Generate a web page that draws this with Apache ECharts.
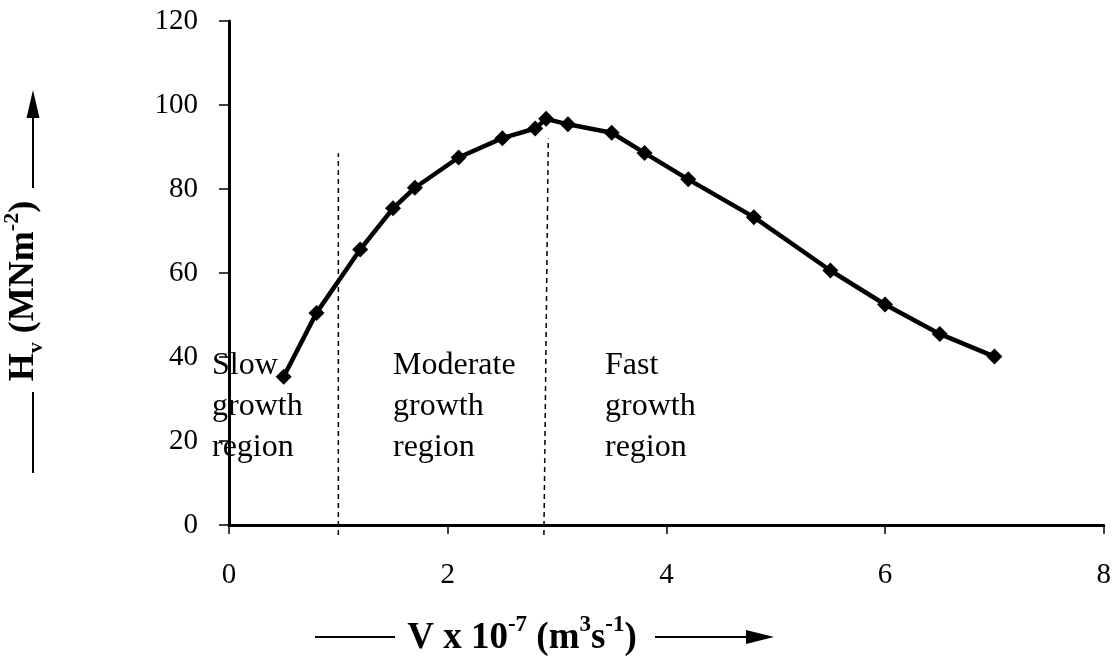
<!DOCTYPE html>
<html>
<head>
<meta charset="utf-8">
<title>Hv vs V</title>
<script src="https://cdn.jsdelivr.net/npm/echarts@6/dist/echarts.min.js"></script>
<style>
  html, body { margin: 0; padding: 0; background: #fff; }
  #chart { width: 1114px; height: 660px; }
</style>
</head>
<body>
<div id="chart"></div>
<script>
// Volume rate V (x 10^-7 m^3 s^-1)
const vValues = [0.5, 0.8, 1.2, 1.5, 1.7, 2.1, 2.5, 2.8, 2.9, 3.1, 3.5, 3.8, 4.2, 4.8, 5.5, 6.0, 6.5, 7.0];
// Hardness Hv (MN m^-2)
const hvValues = [35.3, 50.5, 65.6, 75.4, 80.3, 87.5, 92.1, 94.4, 96.7, 95.4, 93.4, 88.6, 82.3, 73.3, 60.6, 52.5, 45.5, 40.1];

// Axis ranges and tick spacing
const xAxisRange = [0, 8];
const xTickStep = 2;
const yAxisRange = [0, 120];
const yTickStep = 20;

// Region boundaries (dashed separators), as [V, Hv] end points
const slowModerateBoundary = [[1.0, -2.4], [1.0, 88.5]];
const moderateFastBoundary = [[2.88, -2.4], [2.92, 92.0]];

// Region captions
const regionNames = ['Slow\ngrowth\nregion', 'Moderate\ngrowth\nregion', 'Fast\ngrowth\nregion'];

const serif = '"Liberation Serif", "Times New Roman", serif';

const chart = echarts.init(document.getElementById('chart'), null, { renderer: 'canvas' });

const points = vValues.map((v, i) => [v, hvValues[i]]);

const dashedStyle = { color: '#000', width: 1.5, type: [5, 4] };

function regionText(text, x, y) {
  return {
    type: 'text',
    left: x, top: y,
    z: 10,
    style: {
      text: text,
      font: '32px ' + serif,
      fill: '#000',
      lineHeight: 41
    }
  };
}

const option = {
  backgroundColor: '#fff',
  animation: false,
  grid: { left: 229, right: 10, top: 21, bottom: 135, containLabel: false },
  xAxis: {
    type: 'value',
    min: xAxisRange[0], max: xAxisRange[1], interval: xTickStep,
    splitLine: { show: false },
    axisLine: { onZero: false, lineStyle: { color: '#000', width: 3 } },
    axisTick: { show: true, length: 9, lineStyle: { color: '#000', width: 1.5 } },
    axisLabel: { color: '#000', fontFamily: serif, fontSize: 29, margin: 36 }
  },
  yAxis: {
    type: 'value',
    min: yAxisRange[0], max: yAxisRange[1], interval: yTickStep,
    splitLine: { show: false },
    axisLine: { lineStyle: { color: '#000', width: 3 } },
    axisTick: { show: true, length: 10, lineStyle: { color: '#000', width: 1.5 } },
    axisLabel: { color: '#000', fontFamily: serif, fontSize: 29, margin: 31 }
  },
  series: [
    {
      name: 'slow-moderate',
      type: 'line',
      data: slowModerateBoundary,
      symbol: 'none',
      clip: false,
      lineStyle: dashedStyle,
      z: 1,
      silent: true
    },
    {
      name: 'moderate-fast',
      type: 'line',
      data: moderateFastBoundary,
      symbol: 'none',
      clip: false,
      lineStyle: dashedStyle,
      z: 1,
      silent: true
    },
    {
      name: 'Hv',
      type: 'line',
      data: points,
      symbol: 'diamond',
      symbolSize: 16,
      itemStyle: { color: '#000' },
      lineStyle: { color: '#000', width: 4.5 },
      z: 5
    }
  ],
  graphic: [
    regionText(regionNames[0], 212, 345),
    regionText(regionNames[1], 393, 345),
    regionText(regionNames[2], 605, 345),

    // x-axis title with lead-in line and arrow
    {
      type: 'line', z: 10,
      shape: { x1: 315, y1: 637, x2: 395, y2: 637 },
      style: { stroke: '#000', lineWidth: 2 }
    },
    {
      type: 'text', z: 10,
      x: 522, y: 638,
      style: {
        text: '{b|V x 10}{s|-7}{b| (m}{s|3}{b|s}{s|-1}{b|)}',
        align: 'center', verticalAlign: 'middle',
        rich: {
          b: { font: 'bold 37px ' + serif, fill: '#000', lineHeight: 48, verticalAlign: 'middle' },
          s: { font: 'bold 23px ' + serif, fill: '#000', lineHeight: 48, verticalAlign: 'top' }
        }
      }
    },
    {
      type: 'line', z: 10,
      shape: { x1: 655, y1: 637, x2: 750, y2: 637 },
      style: { stroke: '#000', lineWidth: 2 }
    },
    {
      type: 'polygon', z: 10,
      shape: { points: [[774, 637], [746, 630], [746, 644]] },
      style: { fill: '#000' }
    },

    // y-axis title with lead-in line and arrow
    {
      type: 'line', z: 10,
      shape: { x1: 33, y1: 473, x2: 33, y2: 392 },
      style: { stroke: '#000', lineWidth: 2 }
    },
    {
      type: 'text', z: 10,
      x: 24, y: 291,
      rotation: Math.PI / 2,
      style: {
        text: '{b|H}{v|v}{b| (MNm}{s|-2}{b|)}',
        align: 'center', verticalAlign: 'middle',
        rich: {
          b: { font: 'bold 36px ' + serif, fill: '#000', lineHeight: 46, verticalAlign: 'middle' },
          v: { font: 'bold 22px ' + serif, fill: '#000', lineHeight: 46, verticalAlign: 'bottom' },
          s: { font: 'bold 22px ' + serif, fill: '#000', lineHeight: 46, verticalAlign: 'top' }
        }
      }
    },
    {
      type: 'line', z: 10,
      shape: { x1: 33, y1: 188, x2: 33, y2: 112 },
      style: { stroke: '#000', lineWidth: 2 }
    },
    {
      type: 'polygon', z: 10,
      shape: { points: [[33, 90], [26.5, 118], [39.5, 118]] },
      style: { fill: '#000' }
    }
  ]
};

chart.setOption(option);
</script>
</body>
</html>
